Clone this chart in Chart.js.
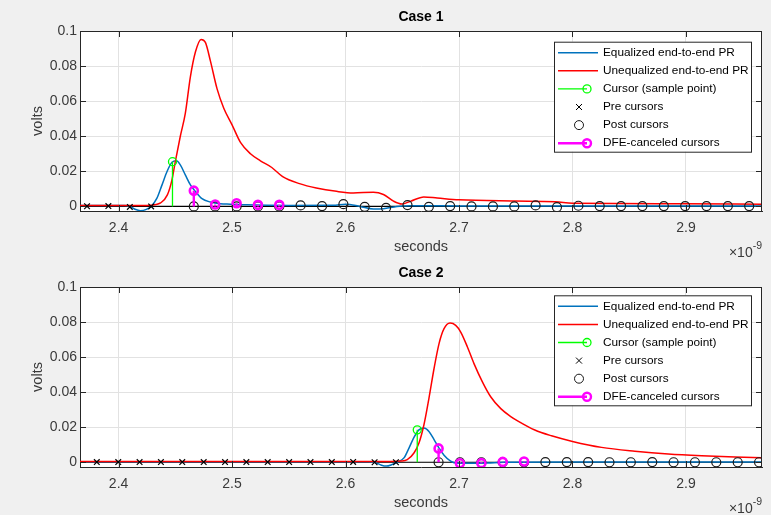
<!DOCTYPE html>
<html>
<head>
<meta charset="utf-8">
<script src="https://cdn.jsdelivr.net/npm/chart.js@4.4.1/dist/chart.umd.min.js"></script>
<style>
  html, body { margin: 0; padding: 0; background: #f0f0f0; }
  .wrap { position: absolute; left: 0; width: 771px; height: 259px; }
  #w1 { top: 0; }
  #w2 { top: 256px; }
</style>
</head>
<body>
<div class="wrap" id="w1"><canvas id="c1" width="771" height="259"></canvas></div>
<div class="wrap" id="w2"><canvas id="c2" width="771" height="259"></canvas></div>
<script>
// axes (time in ns, shown with x10^-9 exponent)
var xMin = 2.366, xMax = 2.967;
var xTicks = [2.4, 2.5, 2.6, 2.7, 2.8, 2.9];
var xTickLabels = ['2.4', '2.5', '2.6', '2.7', '2.8', '2.9'];
var yTicks = [0, 0.02, 0.04, 0.06, 0.08, 0.1];
var yTickLabels = ['0', '0.02', '0.04', '0.06', '0.08', '0.1'];
var legendLabels = ['Equalized end-to-end PR', 'Unequalized end-to-end PR', 'Cursor (sample point)',
  'Pre cursors', 'Post cursors', 'DFE-canceled cursors'];

// ---- Case 1 ----
var c1EqT = [2.366, 2.405, 2.410, 2.4145, 2.4192, 2.425, 2.4287, 2.4338, 2.4383, 2.4427, 2.4471, 2.451, 2.4544,
  2.4588, 2.4633, 2.4677, 2.4735, 2.4809, 2.4897, 2.4985, 2.5132, 2.550, 2.589, 2.600, 2.6127, 2.6246, 2.6334,
  2.6453, 2.657, 2.700, 2.780, 2.967];
var c1EqV = [0.0005, 0.0005, 0.0000, -0.0016, -0.0024, -0.0015, 0.0000, 0.0047, 0.0123, 0.0199, 0.0252, 0.0260, 0.0237,
  0.0180, 0.0123, 0.0085, 0.0044, 0.0025, 0.0015, 0.0013, 0.0009, 0.0006, 0.0007, 0.0013, 0.0000, -0.0015, -0.0013,
  0.0000, 0.0004, 0.0003, 0.0002, 0.0002];
var c1UnT = [2.366, 2.400, 2.425, 2.432, 2.437, 2.443, 2.447, 2.450, 2.4544, 2.4588, 2.4633, 2.4677, 2.4727, 2.4765,
  2.4809, 2.4868, 2.4927, 2.500, 2.5074, 2.5162, 2.525, 2.535, 2.5446, 2.5594, 2.5742, 2.592, 2.6068, 2.6246, 2.6334,
  2.6423, 2.6497, 2.6571, 2.669, 2.6808, 2.700, 2.749, 2.785, 2.800, 2.838, 2.897, 2.967];
var c1UnV = [0.0005, 0.0005, 0.0006, 0.0010, 0.0020, 0.0066, 0.0150, 0.0256, 0.0400, 0.0530, 0.0740, 0.0880, 0.0952, 0.0935,
  0.0830, 0.0670, 0.0560, 0.0465, 0.0365, 0.0300, 0.0260, 0.0222, 0.0170, 0.0130, 0.0105, 0.0086, 0.0077, 0.0081, 0.0068,
  0.0030, 0.0014, 0.0029, 0.0054, 0.0048, 0.0038, 0.0031, 0.0027, 0.0018, 0.0017, 0.0015, 0.0013];
var c1CurT = [2.4475];
var c1CurV = [0.0255];
var c1PreT = [2.3722, 2.3910, 2.4099, 2.4287];
var c1PreV = [0.0001, 0.0002, -0.0003, 0.0000];
var c1PostT = [2.4663, 2.4851, 2.5040, 2.5228, 2.5416, 2.5604, 2.5793, 2.5981, 2.6169, 2.6357, 2.6546, 2.6734, 2.6922,
  2.7110, 2.7299, 2.7487, 2.7675, 2.7863, 2.8052, 2.8240, 2.8428, 2.8616, 2.8805, 2.8993, 2.9181, 2.9369, 2.9557];
var c1PostV = [0, 0, 0, 0, 0, 0.0006, 0.0002, 0.0013, -0.0002, -0.0008, 0.0008, -0.0002, 0.0002,
  0, 0, 0, 0.0006, -0.0004, 0.0004, 0.0002, 0.0002, 0.0002, 0.0002, 0.0002, 0.0002, 0.0002, 0.0002];
var c1DfeT = [2.4663, 2.4851, 2.5040, 2.5228, 2.5416];
var c1DfeV = [0.0090, 0.0011, 0.0018, 0.0009, 0.0009];

// ---- Case 2 ----
var c2EqT = [2.366, 2.620, 2.6256, 2.631, 2.636, 2.641, 2.6455, 2.6515, 2.6559, 2.6603, 2.6647, 2.6691, 2.6735, 2.678,
  2.6824, 2.6868, 2.6926, 2.6985, 2.7103, 2.725, 2.7397, 2.800, 2.967];
var c2EqV = [0.0003, 0.0003, 0.0000, -0.0015, -0.0022, -0.0013, 0.0000, 0.0025, 0.0081, 0.0142, 0.0185, 0.0195, 0.0176, 0.0129,
  0.0081, 0.0040, 0.0006, -0.0006, -0.0006, -0.0004, 0.0000, 0.0001, 0.0001];
var c2UnT = [2.366, 2.640, 2.6486, 2.6544, 2.6603, 2.6647, 2.6691, 2.6735, 2.678, 2.6824, 2.6868, 2.6921, 2.6971, 2.7015,
  2.7074, 2.7132, 2.7206, 2.7279, 2.7368, 2.7456, 2.752, 2.7668, 2.7815, 2.800, 2.8256, 2.855, 2.8844, 2.9138, 2.9432, 2.967];
var c2UnV = [0.0005, 0.0005, 0.0007, 0.0015, 0.0053, 0.0110, 0.0214, 0.0365, 0.0535, 0.0677, 0.0762, 0.0794, 0.0781, 0.0743,
  0.0658, 0.0563, 0.0459, 0.0374, 0.0306, 0.0261, 0.0235, 0.0184, 0.0151, 0.0119, 0.0085, 0.0063, 0.0047, 0.0037, 0.0030, 0.0026];
var c2CurT = [2.6632];
var c2CurV = [0.0185];
var c2PreT = [2.3808, 2.3997, 2.4185, 2.4373, 2.4561, 2.4750, 2.4938, 2.5126, 2.5314, 2.5503, 2.5691, 2.5879, 2.6067,
  2.6256, 2.6444];
var c2PreV = [0.0001, 0.0001, 0.0001, 0.0001, 0.0001, 0.0001, 0.0001, 0.0001, 0.0001, 0.0001, 0.0001, 0.0001, 0.0002,
  0.0000, 0.0000];
var c2PostT = [2.6820, 2.7008, 2.7197, 2.7385, 2.7573, 2.7761, 2.7950, 2.8138, 2.8326, 2.8514, 2.8703, 2.8891, 2.9079,
  2.9267, 2.9456, 2.9644];
var c2PostV = [0, 0, 0, 0, 0, 0.0001, 0.0001, 0.0001, 0, 0, 0.0001, 0, 0, 0, 0, 0];
var c2DfeT = [2.6820, 2.7008, 2.7197, 2.7385, 2.7573];
var c2DfeV = [0.0079, -0.0006, -0.0005, 0.0002, 0.0004];

var FONT = "'Liberation Sans', Arial, sans-serif";
var INK = '#262626';
var TICK_INK = '#3a3a3a';

function pts(xs, ys) {
  return xs.map(function(x, i) { return {x: x, y: ys[i]}; });
}
// stem: segment from 0 up to the value, then a gap
function stemPts(xs, ys) {
  var out = [];
  xs.forEach(function(x, i) {
    out.push({x: x, y: 0}, {x: x, y: ys[i]}, {x: x, y: null});
  });
  return out;
}
function tipOnly(r) {
  return function(ctx) { return ctx.index % 3 === 1 ? r : 0; };
}

var matlabDecor = {
  id: 'matlabDecor',
  beforeDraw: function(chart) {
    var a = chart.chartArea, ctx = chart.ctx;
    ctx.save();
    ctx.fillStyle = '#ffffff';
    ctx.fillRect(a.left, a.top, a.right - a.left, a.bottom - a.top);
    ctx.restore();
  },
  afterDraw: function(chart, args, o) {
    var a = chart.chartArea, ctx = chart.ctx;
    var xs = chart.scales.x, ys = chart.scales.y;
    ctx.save();
    // box + inward ticks
    ctx.strokeStyle = INK;
    ctx.lineWidth = 1;
    ctx.beginPath();
    ctx.moveTo(a.left, a.top + 0.5); ctx.lineTo(a.right, a.top + 0.5);
    ctx.moveTo(a.right - 0.5, a.top); ctx.lineTo(a.right - 0.5, a.bottom);
    xTicks.forEach(function(v) {
      var px = Math.round(xs.getPixelForValue(v)) + 0.5;
      ctx.moveTo(px, a.bottom); ctx.lineTo(px, a.bottom - 6);
      ctx.moveTo(px, a.top); ctx.lineTo(px, a.top + 6);
    });
    yTicks.forEach(function(v) {
      var py = Math.round(ys.getPixelForValue(v)) + 0.5;
      ctx.moveTo(a.left, py); ctx.lineTo(a.left + 6, py);
      ctx.moveTo(a.right, py); ctx.lineTo(a.right - 6, py);
    });
    ctx.stroke();

    // title
    ctx.fillStyle = '#000';
    ctx.font = 'bold 14px ' + FONT;
    ctx.textAlign = 'center';
    ctx.textBaseline = 'middle';
    ctx.fillText(o.title, (a.left + a.right) / 2, 17.5);

    // exponent label
    ctx.fillStyle = TICK_INK;
    ctx.textAlign = 'right';
    ctx.textBaseline = 'alphabetic';
    ctx.font = '10.5px ' + FONT;
    var supW = ctx.measureText('-9').width;
    ctx.fillText('-9', a.right, 249);
    ctx.font = '14px ' + FONT;
    ctx.fillText('\u00d710', a.right - supW, 257);

    // legend
    var bw = 197, bh = 110, rowH = 18.1;
    var bx = a.right - 11 - bw, by = a.top + o.legendTop;
    ctx.fillStyle = '#ffffff';
    ctx.fillRect(bx, by, bw, bh);
    ctx.strokeStyle = INK;
    ctx.lineWidth = 1;
    ctx.strokeRect(bx + 0.5, by + 0.5, bw, bh);
    ctx.font = '11.8px ' + FONT;
    ctx.textAlign = 'left';
    ctx.textBaseline = 'middle';
    var items = chart.data.datasets.filter(function(d) { return d.leg; });
    items.forEach(function(d, i) {
      var y = by + 11 + i * rowH;
      var x0 = bx + 4;
      ctx.strokeStyle = d.borderColor || d.pointBorderColor;
      ctx.lineWidth = d.leg === 'stem' ? d.borderWidth : 1;
      ctx.beginPath();
      if (d.leg === 'line') {
        ctx.lineWidth = d.borderWidth;
        ctx.moveTo(x0, y); ctx.lineTo(x0 + 40, y);
      } else if (d.leg === 'stem') {
        ctx.moveTo(x0, y); ctx.lineTo(x0 + 29, y);
        ctx.moveTo(x0 + 29 + d.markR, y);
        ctx.arc(x0 + 29, y, d.markR, 0, Math.PI * 2);
      } else if (d.leg === 'cross') {
        ctx.strokeStyle = d.pointBorderColor;
        ctx.moveTo(x0 + 18, y - 3); ctx.lineTo(x0 + 24, y + 3);
        ctx.moveTo(x0 + 24, y - 3); ctx.lineTo(x0 + 18, y + 3);
      } else if (d.leg === 'circle') {
        ctx.strokeStyle = d.pointBorderColor;
        ctx.moveTo(x0 + 21 + 4.5, y);
        ctx.arc(x0 + 21, y, 4.5, 0, Math.PI * 2);
      }
      ctx.stroke();
      ctx.fillStyle = '#000';
      ctx.fillText(d.label, bx + 49, y);
    });
    ctx.restore();
  }
};

function buildDatasets(c) {
  return [
    {label: 'baseline', data: pts([xMin, xMax], [0, 0]), borderColor: '#000', borderWidth: 1.2,
      pointRadius: 0, order: 10},
    {label: legendLabels[0], leg: 'line', data: pts(c.eqT, c.eqV), borderColor: '#0072BD', borderWidth: 1.5,
      pointRadius: 0, cubicInterpolationMode: 'monotone', order: 9},
    {label: legendLabels[1], leg: 'line', data: pts(c.unT, c.unV), borderColor: '#FF0000', borderWidth: 1.5,
      pointRadius: 0, cubicInterpolationMode: 'monotone', order: 8},
    {label: legendLabels[2], leg: 'stem', markR: 4, data: stemPts(c.curT, c.curV), borderColor: '#00FF00',
      borderWidth: 1.3, spanGaps: false, pointRadius: tipOnly(4), pointBorderColor: '#00FF00',
      pointBackgroundColor: 'rgba(0,0,0,0)', pointBorderWidth: 1.3, order: 7},
    {label: legendLabels[3], leg: 'cross', data: pts(c.preT, c.preV), showLine: false, pointStyle: 'crossRot',
      pointRadius: 4, pointBorderColor: '#000', pointBorderWidth: 1.2, order: 6},
    {label: legendLabels[4], leg: 'circle', data: pts(c.postT, c.postV), showLine: false, pointStyle: 'circle',
      pointRadius: 4.5, pointBorderColor: '#1a1a1a', pointBackgroundColor: 'rgba(0,0,0,0)', pointBorderWidth: 1.2,
      order: 5},
    {label: legendLabels[5], leg: 'stem', markR: 4, data: stemPts(c.dfeT, c.dfeV), borderColor: '#FF00FF',
      borderWidth: 2.4, spanGaps: false, pointRadius: tipOnly(4), pointBorderColor: '#FF00FF',
      pointBackgroundColor: 'rgba(0,0,0,0)', pointBorderWidth: 2.6, order: 4}
  ];
}

function makeChart(id, c) {
  return new Chart(document.getElementById(id), {
    type: 'line',
    data: {datasets: buildDatasets(c)},
    options: {
      responsive: false,
      animation: false,
      layout: {padding: {top: 31, right: 9, bottom: 3, left: 0}},
      plugins: {
        legend: {display: false},
        tooltip: {enabled: false},
        matlabDecor: {title: c.title, legendTop: c.legendTop}
      },
      scales: {
        x: {
          type: 'linear', min: xMin, max: xMax,
          afterBuildTicks: function(s) { s.ticks = xTicks.map(function(v) { return {value: v}; }); },
          afterFit: function(s) { s.height = 45; },
          grid: {color: '#e2e2e2', drawTicks: false},
          border: {color: INK},
          ticks: {autoSkip: false, maxRotation: 0, padding: 9, color: TICK_INK, font: {family: FONT, size: 14},
            callback: function(v, i) { return xTickLabels[i]; }},
          title: {display: true, text: 'seconds', color: TICK_INK, font: {family: FONT, size: 14.5},
            padding: {top: 0, bottom: 0}}
        },
        y: {
          type: 'linear', min: c.yMin, max: 0.1,
          afterBuildTicks: function(s) { s.ticks = yTicks.map(function(v) { return {value: v}; }); },
          afterFit: function(s) { s.width = 80; },
          grid: {color: '#e2e2e2', drawTicks: false},
          border: {color: INK},
          ticks: {autoSkip: false, padding: 3, color: TICK_INK, font: {family: FONT, size: 14},
            callback: function(v, i) { return yTickLabels[i]; }},
          title: {display: true, text: 'volts', color: TICK_INK, font: {family: FONT, size: 14.5},
            padding: {top: 29.3, bottom: 0}}
        }
      }
    },
    plugins: [matlabDecor]
  });
}

makeChart('c1', {title: 'Case 1', legendTop: 10.7, yMin: -0.0026,
  eqT: c1EqT, eqV: c1EqV, unT: c1UnT, unV: c1UnV, curT: c1CurT, curV: c1CurV,
  preT: c1PreT, preV: c1PreV, postT: c1PostT, postV: c1PostV, dfeT: c1DfeT, dfeV: c1DfeV});
makeChart('c2', {title: 'Case 2', legendTop: 8.3, yMin: -0.0027,
  eqT: c2EqT, eqV: c2EqV, unT: c2UnT, unV: c2UnV, curT: c2CurT, curV: c2CurV,
  preT: c2PreT, preV: c2PreV, postT: c2PostT, postV: c2PostV, dfeT: c2DfeT, dfeV: c2DfeV});
</script>
</body>
</html>
